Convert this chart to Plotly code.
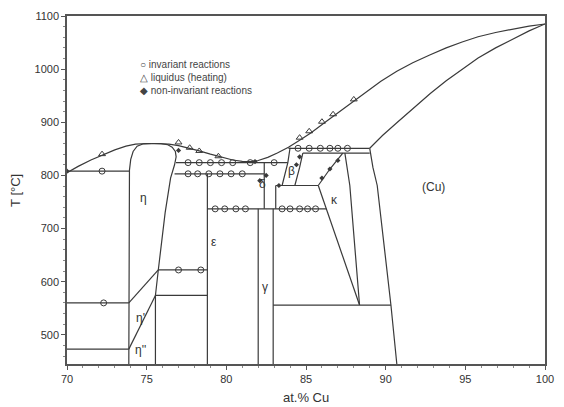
import plotly.graph_objects as go

LINE = "#3a3a3a"
FONT = "Liberation Sans, Arial, sans-serif"

# ---- phase boundaries (at.% Cu, T in degC) ----
liquidus_x = [70.0, 70.7, 71.5, 72.2, 73.0, 73.7, 74.3, 75.0, 75.8, 76.4, 77.0, 77.6, 78.3, 79.0,
              79.7, 80.4, 81.0, 81.5, 82.0, 82.6, 83.2, 83.9, 84.6, 85.3, 86.2, 87.2, 88.1, 88.7,
              89.7, 90.7, 91.7, 92.8, 93.8, 94.8, 95.8, 96.9, 98.0, 99.0, 100.0]
liquidus_T = [805, 817, 829, 838, 848, 855, 859, 860, 860, 859, 856, 852, 846, 840,
              834, 829, 826.5, 826, 828, 834, 842, 853, 866, 880, 900, 922, 942, 955,
              977, 996, 1012, 1027, 1040, 1051, 1061, 1069, 1076, 1081, 1085]

cu_solidus_x = [89.0, 89.8, 90.7, 91.8, 92.8, 93.8, 94.8, 95.8, 96.9, 98.0, 99.0, 100.0]
cu_solidus_T = [851, 875, 899, 928, 954, 978, 1000, 1021, 1040, 1057, 1072, 1085]

cu_solvus_x = [89.0, 89.2, 89.47, 89.9, 90.33, 90.7]
cu_solvus_T = [851, 815, 781, 670, 556, 445]

eta_left_x = [73.88, 73.88, 73.92, 74.0, 74.15, 74.4, 74.8, 75.3]
eta_left_T = [445, 780, 810, 830, 845, 855, 859.5, 860]
eta_right_x = [75.55, 75.55, 75.73, 76.16, 76.5, 76.75, 76.85, 76.8, 76.6, 76.3, 75.9, 75.3]
eta_right_T = [445, 574, 622, 730, 795, 820, 835, 845, 853, 858, 860, 860]

eta_p1_x = [73.88, 75.73]
eta_p1_T = [560, 622]
eta_p2_x = [73.88, 75.55]
eta_p2_T = [473, 574]

eps_x = [78.81, 78.81]
eps_T = [445, 803]

gamma_l_x = [82.0, 82.0]
gamma_l_T = [445, 737]
gamma_r_x = [82.94, 82.94]
gamma_r_T = [445, 737]

delta_l_x = [82.38, 82.38]
delta_l_T = [824, 737]
delta_r_x = [83.1, 83.1]
delta_r_T = [781, 737]

beta_l_x = [84.0, 83.86, 83.5]
beta_l_T = [852, 824, 781]
beta_r_x = [84.8, 84.6, 84.3]
beta_r_T = [842, 815, 781]

kappa_lu_x = [87.31, 86.5, 85.77]
kappa_lu_T = [842, 812, 781]
kappa_ll_x = [85.77, 88.36]
kappa_ll_T = [781, 556]
kappa_r_x = [87.44, 87.75, 88.36]
kappa_r_T = [842, 781, 556]

# isothermal (horizontal) reaction lines: (T, x_start, x_end)
iso_T = [808, 560, 473, 622, 574, 824, 803, 737, 781, 556, 851, 842]
iso_x0 = [70.0, 70.0, 70.0, 75.73, 75.55, 76.84, 76.75, 78.81, 83.1, 82.94, 83.9, 84.8]
iso_x1 = [73.9, 73.88, 73.88, 78.81, 78.81, 83.86, 82.38, 86.28, 85.77, 90.33, 89.0, 89.0]

# ---- measured points ----
inv_x = [72.2, 72.3, 77.0, 78.4,
         77.6, 78.3, 79.0, 79.7, 80.4, 81.5, 83.0,
         77.6, 78.2, 78.9, 79.6, 80.3, 81.0,
         79.3, 79.9, 80.6, 81.2, 83.5, 84.0, 84.6, 85.1, 85.6,
         84.5, 85.2, 85.9, 86.5, 87.0, 87.6]
inv_T = [808, 560, 622, 622,
         824, 824, 824, 824, 824, 824, 824,
         803, 803, 803, 803, 803, 803,
         737, 737, 737, 737, 737, 737, 737, 737, 737,
         851, 851, 851, 851, 851, 851]

liq_pts_x = [72.2, 77.0, 77.7, 78.3, 79.5, 84.6, 85.2, 86.0, 86.7, 88.0]
liq_pts_T = [840, 862, 852, 846, 836, 871, 883, 901, 915, 943]

noninv_x = [70.0, 77.0, 81.8, 82.5, 84.4, 84.6, 86.0, 86.5, 87.0, 83.3, 82.1]
noninv_T = [808, 847, 826, 800, 820, 835, 795, 812, 828, 781, 790]

# ---- phase labels ----
label_text = ["η", "η'", "η''", "ε", "δ", "β", "γ", "κ", "(Cu)"]
label_x = [74.8, 74.6, 74.6, 79.2, 82.3, 84.1, 82.4, 86.8, 93.0]
label_T = [758, 531, 471, 674, 783, 809, 589, 753, 779]

fig = go.Figure()

curves = [
    (liquidus_x, liquidus_T), (cu_solidus_x, cu_solidus_T), (cu_solvus_x, cu_solvus_T),
    (eta_left_x, eta_left_T), (eta_right_x, eta_right_T),
    (eta_p1_x, eta_p1_T), (eta_p2_x, eta_p2_T), (eps_x, eps_T),
    (gamma_l_x, gamma_l_T), (gamma_r_x, gamma_r_T),
    (delta_l_x, delta_l_T), (delta_r_x, delta_r_T),
    (beta_l_x, beta_l_T), (beta_r_x, beta_r_T),
    (kappa_lu_x, kappa_lu_T), (kappa_ll_x, kappa_ll_T), (kappa_r_x, kappa_r_T),
]
for cx, cT in curves:
    fig.add_trace(go.Scatter(x=cx, y=cT, mode="lines", line=dict(color=LINE, width=1.2),
                             hoverinfo="skip", showlegend=False))

for T, a, b in zip(iso_T, iso_x0, iso_x1):
    fig.add_trace(go.Scatter(x=[a, b], y=[T, T], mode="lines", line=dict(color=LINE, width=1.2),
                             hoverinfo="skip", showlegend=False))

fig.add_trace(go.Scatter(x=inv_x, y=inv_T, mode="markers", showlegend=False,
                         marker=dict(symbol="circle-open", size=6, color=LINE, line=dict(width=1))))
fig.add_trace(go.Scatter(x=liq_pts_x, y=liq_pts_T, mode="markers", showlegend=False,
                         marker=dict(symbol="triangle-up-open", size=6, color=LINE, line=dict(width=1))))
fig.add_trace(go.Scatter(x=noninv_x, y=noninv_T, mode="markers", showlegend=False,
                         marker=dict(symbol="diamond", size=4, color=LINE)))

annotations = []
for t, x, y in zip(label_text, label_x, label_T):
    annotations.append(dict(x=x, y=y, text=t, showarrow=False, xref="x", yref="y",
                            font=dict(family=FONT, size=12, color="#333")))

legend_items = ["○ invariant reactions", "△ liquidus (heating)", "◆ non-invariant reactions"]
for i, t in enumerate(legend_items):
    annotations.append(dict(xref="paper", yref="paper", x=0.148, y=0.860 - i * 0.0373, text=t,
                            xanchor="left", yanchor="middle", showarrow=False,
                            font=dict(family=FONT, size=10, color="#444")))

annotations.append(dict(xref="paper", yref="paper", x=-0.109, y=0.5, text="T [°C]", textangle=-90,
                        xanchor="center", yanchor="middle",
                        showarrow=False, font=dict(family=FONT, size=13, color="#333")))
annotations.append(dict(xref="paper", yref="paper", x=0.5, y=-0.097, text="at.% Cu",
                        xanchor="center", yanchor="middle",
                        showarrow=False, font=dict(family=FONT, size=13, color="#333")))

fig.update_layout(
    width=564, height=407,
    margin=dict(l=67, r=10, t=15, b=43),
    paper_bgcolor="white", plot_bgcolor="white",
    font=dict(family=FONT, size=11, color="#333"),
    annotations=annotations,
    showlegend=False,
)
fig.update_xaxes(range=[70, 100], tickvals=[70, 75, 80, 85, 90, 95, 100],
                 showline=True, mirror=True, linecolor="#555", linewidth=1.5,
                 ticks="outside", ticklen=4, tickcolor="#555", showgrid=False, zeroline=False,
                 minor=dict(ticks="outside", ticklen=2, dtick=1, tickcolor="#888"))
fig.update_yaxes(range=[445, 1100], tickvals=[500, 600, 700, 800, 900, 1000, 1100],
                 showline=True, mirror=True, linecolor="#555", linewidth=1.5,
                 ticks="outside", ticklen=4, tickcolor="#555", showgrid=False, zeroline=False,
                 minor=dict(ticks="outside", ticklen=2, dtick=20, tickcolor="#888"))

fig.write_html("out.html")
